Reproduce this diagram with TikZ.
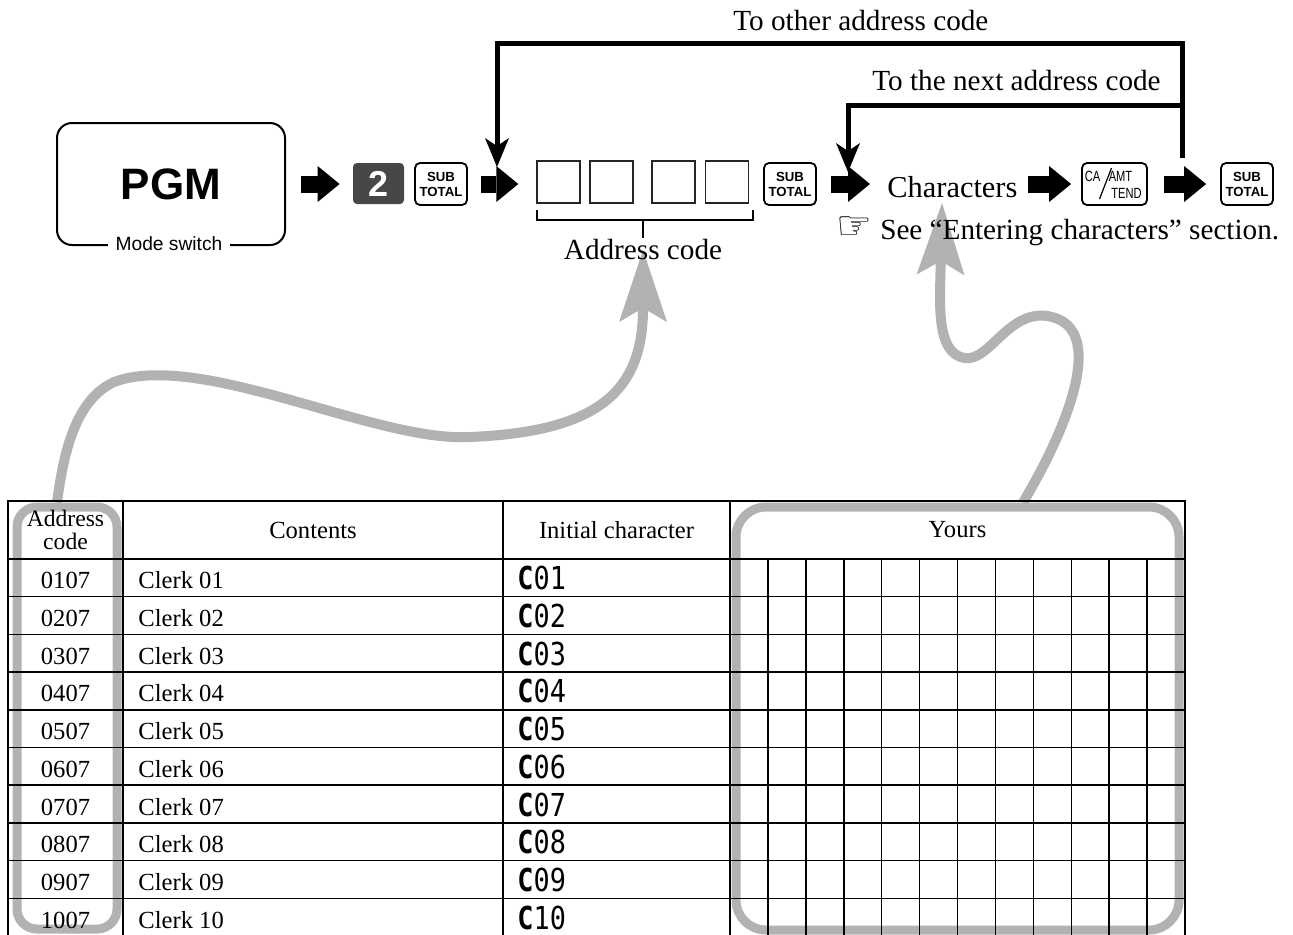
\documentclass[tikz,border=0pt]{standalone}
\usepackage{fontspec}
\setmainfont{Liberation Serif}
\newfontfamily\keysans{Liberation Sans}
\newfontfamily\keynarrow[FakeStretch=0.75]{Liberation Sans}
\newfontfamily\lcdfont[FakeStretch=0.85]{DejaVu Sans Mono}
\newfontfamily\handfont{DejaVu Sans}
\usetikzlibrary{arrows.meta}
\tikzset{
  modebox/.style={draw, line width=1pt, rounded corners=7.5pt, minimum width=114pt, minimum height=61pt, inner sep=0pt},
  modelbl/.style={fill=white, inner xsep=4pt, inner ysep=1pt, font=\keysans\fontsize{9.6}{10}\selectfont},
  numkey/.style={fill=black!72, rounded corners=2pt, minimum width=25.5pt, minimum height=20.5pt, inner sep=0pt, text=white, font=\keysans\bfseries\fontsize{18}{18}\selectfont},
  keybox/.style={draw, line width=0.9pt, rounded corners=2.5pt, minimum width=26pt, minimum height=21pt, inner sep=0pt},
  keylbl/.style={align=center, font=\keysans\bfseries\fontsize{6.6}{7.5}\selectfont},
  keytiny/.style={inner sep=0pt, font=\keynarrow\fontsize{7.4}{7.4}\selectfont},
  digitbox/.style={draw=black!85, line width=0.7pt, minimum width=21.5pt, minimum height=21pt, inner sep=0pt},
  lbl/.style={inner sep=0pt, font=\fontsize{14.6}{16}\selectfont},
  blkarrow/.style={line width=8.5pt, -{Triangle[length=11pt,width=18pt,line width=0pt]}},
  loopln/.style={line width=2.5pt, -{Stealth[length=14.5pt,width=12pt,inset=4pt,line width=0pt]}},
  hilite/.style={draw=black!30, line width=4.5pt, inner sep=0pt},
  grayarrow/.style={draw=black!30, line width=5pt, -{Stealth[length=36pt,width=24pt,inset=7pt,line width=0pt]}},
  tblline/.style={line width=0.75pt},
  tblbold/.style={line width=1.2pt},
  cell/.style={inner sep=0pt, font=\fontsize{12.3}{13}\selectfont},
  lcd/.style={inner sep=0pt, font=\lcdfont\fontsize{15.8}{16}\selectfont}
}
\begin{document}
\begin{tikzpicture}[x=0.5pt,y=-0.5pt]
    \def\rowH{37.7}
    \def\cellW{37.92}
    \useasboundingbox (0,0) rectangle (1293,934);
    % 灰色圈和灰色箭头
    \node[hilite, rounded corners=10pt, minimum width=50pt, minimum height=211pt] (hiA) at (67,718) {};
    \node[hilite, rounded corners=15pt, minimum width=221.5pt, minimum height=211.5pt] (hiY) at (957.5,718.5) {};
    \coordinate (tipA) at (643,250);
    \coordinate (tipC) at (942,203);
    \draw[grayarrow] ([xshift=-5pt]hiA.north) .. controls (65,440) and (80,398) .. (114,382)
        .. controls (200,350) and (375,442) .. (469,437)
        .. controls (600,432) and (643,390) .. (tipA);
    \draw[grayarrow] ([xshift=32.75pt]hiY.north) .. controls (1072,420) and (1104,330) .. (1052,317)
        .. controls (1010,306) and (990,362) .. (965,358)
        .. controls (935,354) and (940,300) .. (tipC);
    % 表格
    \draw[tblbold] (8,501) rectangle (1185,936);
    \draw[tblbold] (8,559) -- (1185,559);
    \foreach \xx in {123,503,730} \draw[tblline] (\xx,501) -- (\xx,936);
    \foreach \i in {1,...,9} \draw[tblline] (8,{559+\i*\rowH}) -- (1185,{559+\i*\rowH});
    \foreach \k in {1,...,11} \draw[tblline] ({730+\k*\cellW},559) -- ({730+\k*\cellW},936);
    \node[cell, align=center, font=\fontsize{11.8}{11.5}\selectfont] (hAddr) at (65.5,530) {Address\\code};
    \node[cell] (hCont) at (313,530) {Contents};
    \node[cell] (hInit) at (616.5,530) {Initial character};
    \node[cell] (hYours) at (957.5,530) {Yours};
    \foreach \cc [count=\i] in {01,02,03,04,05,06,07,08,09,10} {
        \node[cell, anchor=base] (a\i) at (65.5,{559+(\i-0.5)*\rowH+11}) {\cc07};
        \node[cell, anchor=base west] (c\i) at (138,{559+(\i-0.5)*\rowH+11}) {Clerk \cc};
        \node[lcd, anchor=base west] (ic\i) at (517,{559+(\i-0.5)*\rowH+12}) {{\bfseries C}\cc};
    }
    % 模式开关和按键
    \node[modebox, font=\keysans\bfseries\fontsize{22}{22}\selectfont] (pgm) at (171,184) {PGM};
    \node[modelbl, anchor=base] (mode) at (169,250) {Mode switch};
    \node[numkey] (k2) at (378.5,183.5) {2};
    \node[keybox, keylbl] (sub1) at (441,184) {SUB\\TOTAL};
    \foreach \xx [count=\j] in {558.5,611.5,673.5,727} \node[digitbox] (d\j) at (\xx,182) {};
    \node[keybox, keylbl] (sub2) at (790,184) {SUB\\TOTAL};
    \node[lbl, font=\fontsize{15.2}{16}\selectfont, anchor=base west] (chars) at (887,197) {Characters};
    \node[keybox, minimum width=32.5pt] (ca) at (1114.5,184) {};
    \node[keytiny] (caTop) at ([shift={(-22,-8)}]ca.center) {CA};
    \node[keytiny] (amtTop) at ([shift={(6,-8)}]ca.center) {AMT};
    \node[keytiny] (tendBot) at ([shift={(12,9)}]ca.center) {TEND};
    \draw[line width=0.6pt] ([shift={(-15,15)}]ca.center) -- ([shift={(-3,-16)}]ca.center);
    \node[keybox, keylbl] (sub3) at (1247,184) {SUB\\TOTAL};
    % 括号和标签
    \draw[line width=0.6pt] (537,210) -- (537,220) -- (753,220) -- (753,210);
    \draw[line width=0.6pt] (643,220) -- (643,238);
    \node[lbl, anchor=base] (addr) at (643,259) {Address code};
    \node[lbl, anchor=base west] (see) at (836,239) {{\handfont\fontsize{20}{20}\selectfont ☞}\hspace{4pt}See “Entering characters” section.};
    % 黑色箭头
    \draw[blkarrow, shorten <=7.5pt, shorten >=6.5pt] (pgm.east) -- (pgm.east -| k2.west);
    \draw[blkarrow, shorten <=6.5pt, shorten >=9pt] (sub1.east) -- (sub1.east -| d1.west);
    \draw[blkarrow, shorten <=7pt, shorten >=8.5pt] (sub2.east) -- (sub2.east -| chars.west);
    \draw[blkarrow, shorten <=5pt, shorten >=5pt] (chars.east |- ca.west) -- (ca.west);
    \draw[blkarrow, shorten <=8pt, shorten >=7pt] (ca.east) -- (ca.east -| sub3.west);
    % 回路
    \coordinate (split) at (1182,158);
    \coordinate (back1) at (497,167);
    \coordinate (back2) at (848,172);
    \draw[loopln] (split) -- ++(0,-115) -| (back1);
    \draw[loopln] (split |- 0,105) -| (back2);
    \node[lbl, anchor=base west] (toOther) at (733,30) {To other address code};
    \node[lbl, anchor=base west] (toNext) at (872,90) {To the next address code};
\end{tikzpicture}
\end{document}
